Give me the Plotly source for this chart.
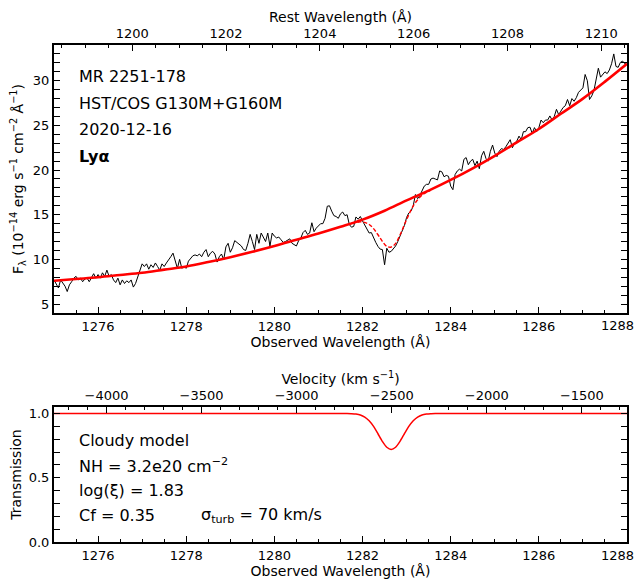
import plotly.graph_objects as go

# redshift and line used for the top axes
z = 0.06398
lya = 1215.67
c_kms = 299792.458

# observed spectrum (Angstrom, 1e-14 erg/s/cm2/A)
wave = [
    1275.00, 1275.05, 1275.10, 1275.15, 1275.20, 1275.25, 1275.30, 1275.35, 1275.40, 1275.45,
    1275.50, 1275.55, 1275.60, 1275.65, 1275.70, 1275.75, 1275.80, 1275.85, 1275.90, 1275.95,
    1276.00, 1276.05, 1276.10, 1276.15, 1276.20, 1276.25, 1276.30, 1276.35, 1276.40, 1276.45,
    1276.50, 1276.55, 1276.60, 1276.65, 1276.70, 1276.75, 1276.80, 1276.85, 1276.90, 1276.95,
    1277.00, 1277.05, 1277.10, 1277.15, 1277.20, 1277.25, 1277.30, 1277.35, 1277.40, 1277.45,
    1277.50, 1277.55, 1277.60, 1277.65, 1277.70, 1277.75, 1277.80, 1277.85, 1277.90, 1277.95,
    1278.00, 1278.05, 1278.10, 1278.15, 1278.20, 1278.25, 1278.30, 1278.35, 1278.40, 1278.45,
    1278.50, 1278.55, 1278.60, 1278.65, 1278.70, 1278.75, 1278.80, 1278.85, 1278.90, 1278.95,
    1279.00, 1279.05, 1279.10, 1279.15, 1279.20, 1279.25, 1279.30, 1279.35, 1279.40, 1279.45,
    1279.50, 1279.55, 1279.60, 1279.65, 1279.70, 1279.75, 1279.80, 1279.85, 1279.90, 1279.95,
    1280.00, 1280.05, 1280.10, 1280.15, 1280.20, 1280.25, 1280.30, 1280.35, 1280.40, 1280.45,
    1280.50, 1280.55, 1280.60, 1280.65, 1280.70, 1280.75, 1280.80, 1280.85, 1280.90, 1280.95,
    1281.00, 1281.05, 1281.10, 1281.15, 1281.20, 1281.25, 1281.30, 1281.35, 1281.40, 1281.45,
    1281.50, 1281.55, 1281.60, 1281.65, 1281.70, 1281.75, 1281.80, 1281.85, 1281.90, 1281.95,
    1282.00, 1282.05, 1282.10, 1282.15, 1282.20, 1282.25, 1282.30, 1282.35, 1282.40, 1282.45,
    1282.50, 1282.55, 1282.60, 1282.65, 1282.70, 1282.75, 1282.80, 1282.85, 1282.90, 1282.95,
    1283.00, 1283.05, 1283.10, 1283.15, 1283.20, 1283.25, 1283.30, 1283.35, 1283.40, 1283.45,
    1283.50, 1283.55, 1283.60, 1283.65, 1283.70, 1283.75, 1283.80, 1283.85, 1283.90, 1283.95,
    1284.00, 1284.05, 1284.10, 1284.15, 1284.20, 1284.25, 1284.30, 1284.35, 1284.40, 1284.45,
    1284.50, 1284.55, 1284.60, 1284.65, 1284.70, 1284.75, 1284.80, 1284.85, 1284.90, 1284.95,
    1285.00, 1285.05, 1285.10, 1285.15, 1285.20, 1285.25, 1285.30, 1285.35, 1285.40, 1285.45,
    1285.50, 1285.55, 1285.60, 1285.65, 1285.70, 1285.75, 1285.80, 1285.85, 1285.90, 1285.95,
    1286.00, 1286.05, 1286.10, 1286.15, 1286.20, 1286.25, 1286.30, 1286.35, 1286.40, 1286.45,
    1286.50, 1286.55, 1286.60, 1286.65, 1286.70, 1286.75, 1286.80, 1286.85, 1286.90, 1286.95,
    1287.00, 1287.05, 1287.10, 1287.15, 1287.20, 1287.25, 1287.30, 1287.35, 1287.40, 1287.45,
    1287.50, 1287.55, 1287.60, 1287.65, 1287.70, 1287.75, 1287.80, 1287.85, 1287.90, 1287.95,
    1288.00,
]
flux = [
    7.7, 7.15, 6.8, 7.7, 7.3, 7.0, 6.4, 7.15, 7.5, 7.9,
    8.1, 7.7, 7.9, 7.5, 7.8, 7.9, 7.5, 8.0, 8.4, 7.9,
    8.3, 7.9, 8.5, 8.1, 8.8, 8.1, 8.3, 7.7, 7.4, 7.9,
    7.15, 7.7, 7.3, 7.6, 7.4, 7.7, 6.9, 7.3, 8.1, 8.8,
    9.5, 9.2, 9.5, 8.9, 9.4, 9.1, 9.6, 9.2, 8.8, 9.5,
    9.2, 9.6, 9.9, 10.3, 10.7, 9.8, 9.0, 10.0, 9.0, 9.2,
    9.0, 9.8, 10.15, 10.4, 10.5, 10.4, 10.6, 10.3, 10.8, 11.1,
    10.3, 10.7, 10.9, 10.6, 9.7, 10.3, 10.6, 9.96, 11.4, 11.8,
    10.8, 11.3, 12.1, 11.9, 11.8, 11.5, 11.1, 11.0, 11.8, 12.8,
    12.0, 11.1, 12.8, 11.8, 12.95, 12.4, 12.0, 12.95, 11.5, 12.95,
    12.6, 12.4, 12.5, 12.2, 11.9, 12.0, 12.2, 12.3, 11.8, 11.6,
    11.5, 12.1, 12.4, 13.0, 13.25, 12.8, 12.95, 14.1, 13.1, 13.5,
    13.7, 14.0, 14.0, 14.6, 15.95, 16.0, 15.4, 14.9, 14.8, 14.6,
    15.1, 15.3, 14.9, 15.0, 13.9, 13.6, 13.7, 14.75, 14.5, 14.8,
    14.3, 13.9, 13.4, 12.95, 13.0, 12.4, 11.9, 11.45, 11.15, 11.1,
    9.4, 11.25, 10.8, 10.9, 11.25, 11.5, 12.0, 12.6, 13.0, 13.8,
    14.7, 15.2, 15.4, 16.0, 17.26, 16.8, 17.15, 17.64, 18.2, 18.4,
    18.4, 19.0, 19.1, 19.0, 18.9, 19.9, 19.8, 19.25, 19.4, 19.3,
    18.2, 17.8, 19.5, 19.9, 20.1, 19.9, 21.2, 21.4, 20.6, 21.0,
    21.2, 20.5, 21.0, 20.15, 21.6, 22.1, 21.3, 21.0, 22.1, 22.8,
    21.9, 21.5, 22.1, 22.4, 22.3, 22.6, 23.0, 23.4, 22.5, 23.0,
    23.25, 23.8, 23.4, 24.3, 24.3, 24.75, 24.8, 24.1, 24.75, 24.3,
    24.75, 25.6, 25.3, 25.6, 25.6, 26.06, 25.6, 26.0, 26.8, 26.2,
    26.6, 27.0, 27.2, 27.9, 27.2, 28.0, 27.7, 28.1, 28.7, 28.9,
    29.2, 30.7, 30.0, 27.9, 28.3, 28.9, 30.0, 31.4, 30.4, 30.7,
    31.0, 30.8, 31.2, 31.9, 33.0, 31.6, 31.5, 32.05, 32.2, 31.9,
    32.05,
]

# continuum model
cont_wave = [1275.0, 1275.5, 1276.0, 1276.5, 1277.0, 1277.5, 1278.0, 1278.5, 1279.0,
             1279.5, 1280.0, 1280.5, 1281.0, 1281.5, 1282.0, 1282.5, 1283.0, 1283.5,
             1284.0, 1284.5, 1285.0, 1285.5, 1286.0, 1286.5, 1287.0, 1287.5, 1288.0]
cont_flux = [7.6, 7.8, 8.0, 8.25, 8.5, 8.85, 9.2, 9.7, 10.25,
             10.85, 11.5, 12.2, 12.9, 13.65, 14.45, 15.45, 16.6, 17.7,
             18.9, 20.2, 21.6, 23.1, 24.6, 26.3, 28.0, 29.9, 31.9]

# absorbed model across the trough
abs_wave = [1281.75, 1281.85, 1281.95, 1282.05, 1282.15, 1282.25, 1282.35, 1282.45,
            1282.55, 1282.65, 1282.75, 1282.85, 1282.95, 1283.05, 1283.15, 1283.25,
            1283.35, 1283.45, 1283.55]
abs_flux = [14.02, 14.13, 14.20, 14.14, 13.91, 13.44, 12.76, 12.02,
            11.46, 11.38, 11.79, 12.72, 13.89, 15.01, 15.98, 16.67,
            17.19, 17.51, 17.76]

# Cloudy transmission
trans_wave = [1275.0, 1281.65, 1281.75, 1281.85, 1281.95, 1282.05, 1282.15, 1282.25,
              1282.35, 1282.45, 1282.55, 1282.65, 1282.75, 1282.85, 1282.95, 1283.05,
              1283.15, 1283.25, 1283.35, 1283.45, 1283.55, 1283.65, 1288.0]
trans = [1.0, 1.0, 0.998, 0.995, 0.988, 0.972, 0.943, 0.899,
         0.842, 0.783, 0.737, 0.72, 0.737, 0.783, 0.842, 0.899,
         0.943, 0.972, 0.988, 0.995, 0.998, 1.0, 1.0]

# observed-wavelength tick labels
obs_ticks = [1276, 1278, 1280, 1282, 1284, 1286, 1288]

top_labels = ["MR 2251-178", "HST/COS G130M+G160M", "2020-12-16", "<b>Lyα</b>"]
bottom_labels = ["Cloudy model", "NH = 3.2e20 cm<sup>−2</sup>", "log(ξ) = 1.83", "Cf = 0.35"]

FONT = "DejaVu Sans"
wmin, wmax = 1275.0, 1288.0
vmin = c_kms * (wmin / (lya * (1 + z)) - 1)
vmax = c_kms * (wmax / (lya * (1 + z)) - 1)

fig = go.Figure()
fig.add_trace(go.Scatter(x=wave, y=flux, mode="lines", line=dict(color="black", width=1),
                         xaxis="x", yaxis="y", showlegend=False))
fig.add_trace(go.Scatter(x=cont_wave, y=cont_flux, mode="lines",
                         line=dict(color="#ff0000", width=2.6, shape="spline"),
                         xaxis="x", yaxis="y", showlegend=False))
fig.add_trace(go.Scatter(x=abs_wave, y=abs_flux, mode="lines",
                         line=dict(color="#ff0000", width=1.4, dash="4px,2px", shape="spline"),
                         xaxis="x", yaxis="y", showlegend=False))
fig.add_trace(go.Scatter(x=trans_wave, y=trans, mode="lines",
                         line=dict(color="#ff0000", width=1.5, shape="spline", smoothing=0.6),
                         xaxis="x2", yaxis="y2", showlegend=False))
# invisible copies so the secondary (rest-frame / velocity) axes get drawn
fig.add_trace(go.Scatter(x=[w / (1 + z) for w in cont_wave], y=cont_flux, mode="lines",
                         opacity=0, hoverinfo="skip", xaxis="x3", yaxis="y", showlegend=False))
fig.add_trace(go.Scatter(x=[c_kms * (w / (lya * (1 + z)) - 1) for w in trans_wave], y=trans,
                         mode="lines", opacity=0, hoverinfo="skip", xaxis="x4", yaxis="y2",
                         showlegend=False))

tick_font = dict(family=FONT, size=13, color="black")
title_font = dict(family=FONT, size=14, color="black")
common = dict(showline=True, linecolor="black", linewidth=2, ticks="inside", ticklen=6,
              tickwidth=1.3, tickcolor="black", showgrid=False, zeroline=False,
              tickfont=tick_font, automargin=False)
minor_x = dict(dtick=0.5, ticks="inside", ticklen=3, tickwidth=1, tickcolor="black")
# last label sits at the right edge of the page; it is drawn separately below
obs_text = [str(t) for t in obs_ticks[:-1]] + [""]

# the page body adds an 8 px offset, so the figure is 8 px smaller than the window
fig.update_layout(
    width=636, height=577,
    margin=dict(l=46, r=17, t=37, b=43),
    plot_bgcolor="white", paper_bgcolor="white",
    font=dict(family=FONT, size=13, color="black"),
    xaxis=dict(domain=[0, 1], anchor="y", range=[wmin, wmax], tickvals=obs_ticks,
               ticktext=obs_text, mirror=True, minor=minor_x,
               title=dict(text="Observed Wavelength (Å)", standoff=0, font=title_font), **common),
    yaxis=dict(domain=[0.4608, 1], anchor="x", range=[4, 34], dtick=5, tick0=0,
               mirror="allticks",
               minor=dict(dtick=1, ticks="inside", ticklen=3, tickwidth=1, tickcolor="black"),
               title=dict(text="F<sub>λ</sub> (10<sup>−14</sup> erg s<sup>−1</sup> cm<sup>−2</sup> Å<sup>−1</sup>)",
                          standoff=15, font=title_font), **common),
    xaxis3=dict(overlaying="x", anchor="y", side="top",
                range=[wmin / (1 + z), wmax / (1 + z)], dtick=2, tick0=1200,
                minor=minor_x, title=dict(text="Rest Wavelength (Å)", standoff=0, font=title_font),
                **common),
    xaxis2=dict(domain=[0, 1], anchor="y2", range=[wmin, wmax], tickvals=obs_ticks,
                ticktext=obs_text, mirror=True, minor=minor_x,
                title=dict(text="Observed Wavelength (Å)", standoff=0, font=title_font), **common),
    yaxis2=dict(domain=[0, 0.2716], anchor="x2", range=[0, 1.05], dtick=0.5, tick0=0,
                tickformat=".1f", mirror="allticks",
                minor=dict(dtick=0.1, ticks="inside", ticklen=3, tickwidth=1, tickcolor="black"),
                title=dict(text="Transmission", standoff=14, font=title_font), **common),
    xaxis4=dict(overlaying="x2", anchor="y2", side="top", range=[vmin, vmax],
                dtick=500, tick0=0,
                minor=dict(dtick=100, ticks="inside", ticklen=3, tickwidth=1, tickcolor="black"),
                title=dict(text="Velocity (km s<sup>−1</sup>)", standoff=0, font=title_font),
                **common),
)

for xr, yr in [("x", "y domain"), ("x2", "y2 domain")]:
    fig.add_annotation(text=str(obs_ticks[-1]), xref=xr, yref=yr, x=obs_ticks[-1], y=0,
                       xanchor="right", yanchor="middle", xshift=9, yshift=-13,
                       showarrow=False, font=tick_font)

ann_font = dict(family=FONT, size=16, color="black")
for i, t in enumerate(top_labels):
    fig.add_annotation(text=t, xref="x domain", yref="y domain", x=0.04, y=0.884 - 0.1005 * i,
                       xanchor="left", yanchor="middle", showarrow=False, font=ann_font)
for i, t in enumerate(bottom_labels):
    fig.add_annotation(text=t, xref="x2 domain", yref="y2 domain", x=0.04, y=0.75 - 0.185 * i,
                       xanchor="left", yanchor="middle", showarrow=False, font=ann_font)
fig.add_annotation(text="σ<sub>turb</sub> = 70 km/s", xref="x2 domain", yref="y2 domain",
                   x=0.253, y=0.195, xanchor="left", yanchor="middle", showarrow=False,
                   font=ann_font)

fig.write_html("out.html")
